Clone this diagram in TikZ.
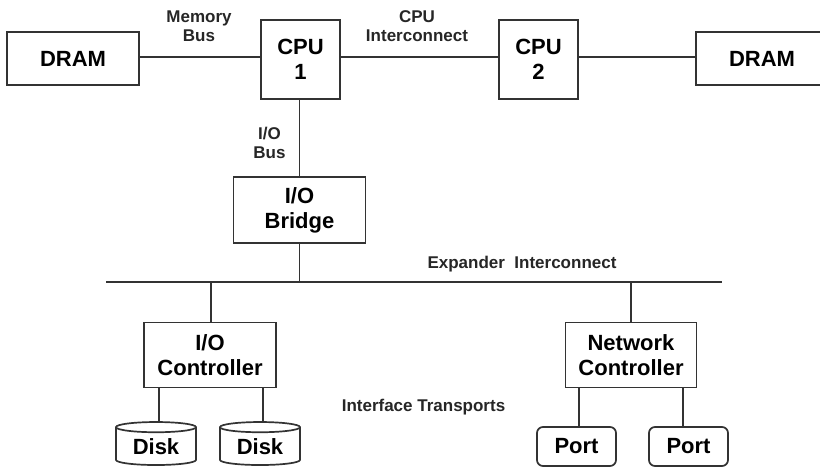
\documentclass[tikz,border=0pt]{standalone}
\usepackage{fontspec}
\setmainfont{Liberation Sans}
\usepackage{tikz}
\usetikzlibrary{shapes.geometric}

\tikzset{
  wire/.style={draw=black!80, line width=1.7pt},
  unit/.style={draw=black!80, line width=1.7pt, align=center, inner sep=0pt,
    font=\fontsize{22}{25}\selectfont\bfseries},
  disk/.style={unit, cylinder, shape border rotate=90, aspect=0.22,
    minimum width=80pt, minimum height=43pt},
  port/.style={unit, rounded corners=6pt, minimum width=79pt, minimum height=39pt},
  tag/.style={align=center, inner sep=0pt, text=black!85,
    font=\fontsize{17}{19.5}\selectfont\bfseries}
}

\begin{document}
\begin{tikzpicture}[x=1pt, y=-1pt]
\useasboundingbox (0,0) rectangle (820,469);

% top row
\node[unit, minimum width=132pt, minimum height=53pt] (dramL) at (73,58.5) {DRAM};
\node[unit, minimum width=79pt, minimum height=79pt] (cpuA) at (300.5,59.5) {CPU\\1};
\node[unit, minimum width=79pt, minimum height=79pt] (cpuB) at (538.5,59.5) {CPU\\2};
\node[unit, minimum width=132pt, minimum height=53pt] (dramR) at (762,58.5) {DRAM};

% bridge and expander
\node[unit, minimum width=132pt, minimum height=66pt] (bridge) at (299.5,210) {I/O\\Bridge};
\coordinate (busL) at (106,282);
\coordinate (busR) at (722,282);

% controllers
\node[unit, minimum width=132pt, minimum height=65pt] (ioCtrl) at (210,355) {I/O\\Controller};
\node[unit, minimum width=131pt, minimum height=65pt] (netCtrl) at (631,355) {Network\\Controller};

% devices
\node[disk] (diskA) at (156,446.5) {Disk};
\node[disk] (diskB) at (260,446.5) {Disk};
\node[port] (portA) at (576.5,446.5) {Port};
\node[port] (portB) at (688.5,446.5) {Port};

% labels
\node[tag] (memLabel) at (199,26) {Memory\\Bus};
\node[tag] (cpuLabel) at (417,26) {CPU\\Interconnect};
\node[tag] (ioLabel) at (269.5,143) {I/O\\Bus};
\node[tag] (expLabel) at (522,264) {Expander\ \ Interconnect};
\node[tag] (ifLabel) at (423.5,407) {Interface Transports};

% connections
\draw[wire] (dramL.east |- 0,57) -- (cpuA.west |- 0,57);
\draw[wire] (cpuA.east |- 0,57) -- (cpuB.west |- 0,57);
\draw[wire] (cpuB.east |- 0,57) -- (dramR.west |- 0,57);
\draw[wire] (bridge.north) -- (bridge.north |- cpuA.south);
\draw[wire] (busL) -- (busR);
\draw[wire] (bridge.south) -- (bridge.south |- busL);
\draw[wire] ([xshift=1pt]ioCtrl.north) -- ([xshift=1pt]ioCtrl.north |- busL);
\draw[wire] (netCtrl.north) -- (netCtrl.north |- busL);
\foreach \d in {diskA,diskB}
{
  \draw[wire] ([xshift=3pt]\d.north) -- ([xshift=3pt]\d.north |- ioCtrl.south);
}
\draw[wire] ([xshift=2.5pt]portA.north) -- ([xshift=2.5pt]portA.north |- netCtrl.south);
\draw[wire] ([xshift=-5.5pt]portB.north) -- ([xshift=-5.5pt]portB.north |- netCtrl.south);
\end{tikzpicture}
\end{document}
